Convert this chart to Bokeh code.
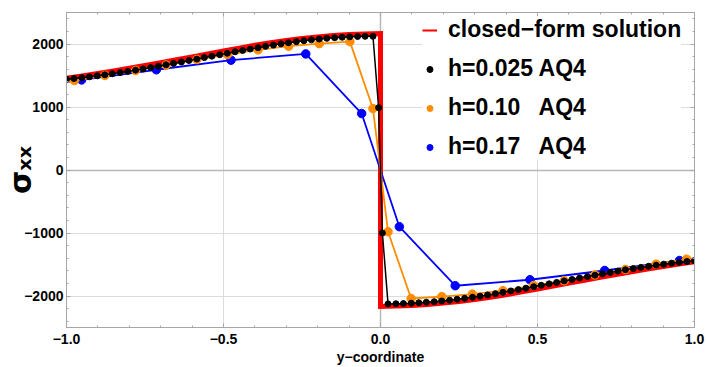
import numpy as np
from bokeh.plotting import figure
from bokeh.models import (Range1d, LinearAxis, FixedTicker, Legend, LegendItem, Grid)
from bokeh.embed import file_html
from bokeh.resources import INLINE

# ---------------- data ----------------
# closed-form solution
exact_y = [-1.0, -0.95, -0.9, -0.85, -0.8, -0.75, -0.7, -0.65, -0.6, -0.55, -0.5,
           -0.45, -0.4, -0.35, -0.3, -0.25, -0.2, -0.15, -0.1, -0.05, 0.0,
           0.0, 0.05, 0.1, 0.15, 0.2, 0.25, 0.3, 0.35, 0.4, 0.45, 0.5,
           0.55, 0.6, 0.65, 0.7, 0.75, 0.8, 0.85, 0.9, 0.95, 1.0]
exact_s = [1455, 1494, 1533, 1573, 1615, 1658, 1703, 1749, 1796, 1843, 1890,
           1935, 1979, 2019, 2055, 2087, 2113, 2134, 2150, 2160, 2165,
           -2165, -2160, -2150, -2134, -2113, -2087, -2055, -2019, -1979, -1935, -1890,
           -1843, -1796, -1749, -1703, -1658, -1615, -1573, -1533, -1494, -1455]

# h=0.025 AQ4
h025_y = [-1.0, -0.976, -0.951, -0.927, -0.902, -0.878, -0.854, -0.829, -0.805, -0.78,
          -0.756, -0.732, -0.707, -0.683, -0.659, -0.634, -0.61, -0.585, -0.561, -0.537,
          -0.512, -0.488, -0.463, -0.439, -0.415, -0.39, -0.366, -0.341, -0.317, -0.293,
          -0.268, -0.244, -0.22, -0.195, -0.171, -0.146, -0.122, -0.098, -0.073, -0.049,
          -0.024, -0.006,
          0.006, 0.024, 0.049, 0.073, 0.098, 0.122, 0.146, 0.171, 0.195, 0.22,
          0.244, 0.268, 0.293, 0.317, 0.341, 0.366, 0.39, 0.415, 0.439, 0.463,
          0.488, 0.512, 0.537, 0.561, 0.585, 0.61, 0.634, 0.659, 0.683, 0.707,
          0.732, 0.756, 0.78, 0.805, 0.829, 0.854, 0.878, 0.902, 0.927, 0.951,
          0.976, 1.0]
h025_s = [1440, 1452, 1465, 1479, 1495, 1511, 1528, 1546, 1565, 1585,
          1605, 1626, 1648, 1670, 1692, 1715, 1738, 1761, 1784, 1807,
          1830, 1853, 1876, 1898, 1920, 1942, 1963, 1983, 2002, 2020,
          2037, 2052, 2066, 2079, 2090, 2099, 2107, 2114, 2119, 2122,
          2122, 990,
          -1000, -2125, -2123, -2120, -2114, -2107, -2099, -2090, -2079, -2066,
          -2052, -2037, -2020, -2002, -1983, -1963, -1942, -1920, -1898, -1876,
          -1853, -1830, -1807, -1784, -1761, -1738, -1715, -1692, -1670, -1648,
          -1626, -1605, -1585, -1565, -1546, -1528, -1511, -1495, -1479, -1465,
          -1452, -1440]

# h=0.10 AQ4
h10_y = [-1.0, -0.975, -0.8775, -0.78, -0.6825, -0.585, -0.4875, -0.39, -0.2925,
         -0.195, -0.0975, -0.024,
         0.024, 0.0975, 0.195, 0.2925, 0.39, 0.4875, 0.585, 0.6825, 0.78,
         0.8775, 0.975, 1.0]
h10_s = [1405, 1420, 1500, 1580, 1665, 1754, 1833, 1907, 1965,
         2006, 2038, 975,
         -980, -2040, -2010, -1970, -1915, -1835, -1757, -1665, -1578,
         -1495, -1415, -1405]

# h=0.17 AQ4
h17_y = [-1.0, -0.952, -0.714, -0.476, -0.238, -0.06,
         0.06, 0.238, 0.476, 0.714, 0.952, 1.0]
h17_s = [1400, 1430, 1591, 1744, 1843, 896,
         -900, -1837, -1742, -1595, -1437, -1405]

x_ticks = [-1.0, -0.5, 0.0, 0.5, 1.0]
x_tick_labels = ["\u22121.0", "\u22120.5", "0.0", "0.5", "1.0"]
y_ticks = [-2000, -1000, 0, 1000, 2000]
y_tick_labels = ["\u22122000", "\u22121000", "0", "1000", "2000"]

legend_labels = ["closed\u2212form solution", "h=0.025 AQ4",
                 "h=0.10\u00a0\u00a0 AQ4", "h=0.17\u00a0\u00a0 AQ4"]
x_label = "y\u2212coordinate"
y_label = "\u03c3\u2093\u2093"

# ---------------- styles ----------------
RED = "#ff0000"
ORANGE = "#ff8c00"
BLUE = "#0000ff"
BLACK = "#000000"
FONT = "Liberation Sans"
FRAME = "#a6a6a6"

p = figure(width=707, height=367, x_range=Range1d(-1, 1), y_range=Range1d(-2500, 2500),
           output_backend="svg", toolbar_location=None,
           min_border_left=64, min_border_right=13, min_border_top=12, min_border_bottom=40)
p.outline_line_color = FRAME
p.background_fill_color = "white"
p.border_fill_color = "white"

x_minor = [round(v, 2) for v in np.arange(-1.0, 1.0001, 0.1)]
y_minor = [int(v) for v in np.arange(-2400, 2401, 200)]

def style_axis(ax, ticks, minor, labels, show_labels=True):
    ax.ticker = FixedTicker(ticks=ticks, minor_ticks=minor)
    ax.axis_line_color = FRAME
    ax.major_tick_line_color = FRAME
    ax.minor_tick_line_color = FRAME
    ax.major_tick_in = 4
    ax.major_tick_out = 0
    ax.minor_tick_in = 2
    ax.minor_tick_out = 0
    if show_labels:
        ax.major_label_overrides = {t: l for t, l in zip(ticks, labels)}
        ax.major_label_text_font = FONT
        ax.major_label_text_font_style = "bold"
        ax.major_label_text_font_size = "14px"
        ax.major_label_text_color = "black"
    else:
        ax.major_label_overrides = {t: "" for t in ticks}
        ax.major_label_text_font_size = "2px"
        ax.major_label_standoff = 0

style_axis(p.xaxis[0], x_ticks, x_minor, x_tick_labels)
p.xaxis[0].major_label_standoff = 6
p.xaxis[0].axis_label = x_label
p.xaxis[0].axis_label_text_font = FONT
p.xaxis[0].axis_label_text_font_style = "bold"
p.xaxis[0].axis_label_text_font_size = "14px"
p.xaxis[0].axis_label_text_color = "black"
p.xaxis[0].axis_label_standoff = 2

style_axis(p.yaxis[0], y_ticks, y_minor, y_tick_labels)
p.yaxis[0].major_label_standoff = 3
p.yaxis[0].axis_label = y_label
p.yaxis[0].axis_label_text_font = "DejaVu Sans"
p.yaxis[0].axis_label_text_font_style = "bold"
p.yaxis[0].axis_label_text_font_size = "30px"
p.yaxis[0].axis_label_text_color = "black"
p.yaxis[0].axis_label_standoff = -17

top_ax = LinearAxis()
style_axis(top_ax, x_ticks, x_minor, x_tick_labels, show_labels=False)
p.add_layout(top_ax, "above")
right_ax = LinearAxis()
style_axis(right_ax, y_ticks, y_minor, y_tick_labels, show_labels=False)
p.add_layout(right_ax, "right")

# grids
p.xgrid.ticker = FixedTicker(ticks=[-0.5, 0.5])
p.ygrid.ticker = FixedTicker(ticks=[-2000, -1000, 1000, 2000])
p.xgrid.grid_line_color = "#dcdcdc"
p.ygrid.grid_line_color = "#dcdcdc"
p.add_layout(Grid(dimension=0, ticker=FixedTicker(ticks=[0]),
                  grid_line_color="#b8b8b8", grid_line_width=1.5))
p.add_layout(Grid(dimension=1, ticker=FixedTicker(ticks=[0]),
                  grid_line_color="#b8b8b8", grid_line_width=1.5))

# data renderers
p.line(exact_y, exact_s, line_color=RED, line_width=5, line_join="miter")
p.line(h17_y, h17_s, line_color=BLUE, line_width=1.8)
p.scatter(h17_y[1:-1], h17_s[1:-1], size=8.5, fill_color=BLUE, line_color=BLUE)
p.line(h10_y, h10_s, line_color=ORANGE, line_width=1.8)
p.scatter(h10_y[1:-1], h10_s[1:-1], size=8.5, fill_color=ORANGE, line_color=ORANGE)
p.line(h025_y, h025_s, line_color=BLACK, line_width=1.5)
p.scatter(h025_y, h025_s, size=6, fill_color=BLACK, line_color=BLACK)

# legend proxies (no data drawn)
leg_red = p.line(x=[np.nan], y=[np.nan], line_color=RED, line_width=2)
leg_black = p.scatter(x=[np.nan], y=[np.nan], size=8, fill_color=BLACK, line_color=BLACK)
leg_orange = p.scatter(x=[np.nan], y=[np.nan], size=10, fill_color=ORANGE, line_color=ORANGE)
leg_blue = p.scatter(x=[np.nan], y=[np.nan], size=10, fill_color=BLUE, line_color=BLUE)

legend = Legend(items=[
    LegendItem(label=legend_labels[0], renderers=[leg_red]),
    LegendItem(label=legend_labels[1], renderers=[leg_black]),
    LegendItem(label=legend_labels[2], renderers=[leg_orange]),
    LegendItem(label=legend_labels[3], renderers=[leg_blue]),
], location=(356, 167))
legend.label_text_font = FONT
legend.label_text_font_style = "bold"
legend.label_text_font_size = "23px"
legend.label_text_color = "black"
legend.glyph_width = 15
legend.glyph_height = 20
legend.label_height = 20
legend.label_standoff = 11
legend.spacing = 12
legend.padding = 8
legend.margin = 0
legend.border_line_color = None
legend.background_fill_color = "white"
legend.background_fill_alpha = 1.0
p.add_layout(legend, "center")

open("out.html", "w").write(file_html(p, INLINE))
